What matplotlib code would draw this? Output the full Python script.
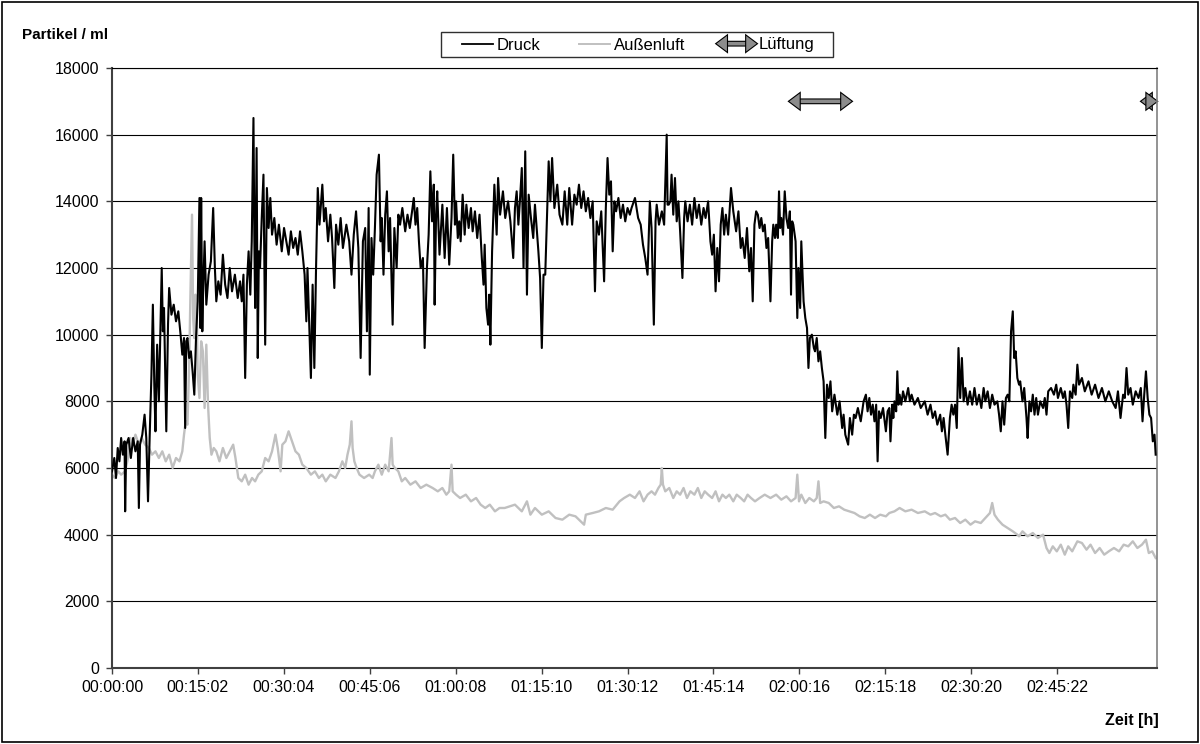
import matplotlib
matplotlib.use("Agg")
import matplotlib.pyplot as plt
import matplotlib.patheffects as pe
from matplotlib.patches import FancyArrowPatch, Rectangle
from matplotlib.lines import Line2D
from matplotlib.legend_handler import HandlerPatch

plt.rcParams['font.family'] = ['Liberation Sans', 'DejaVu Sans']

# Druck: time in minutes, particles per ml
druck_min = [
    0.0, 0.4, 0.7, 1.0, 1.3, 1.6, 1.9, 2.2, 2.3, 2.5, 2.9, 3.3, 3.7, 4.1, 4.5, 4.7, 4.9, 5.3, 5.7, 6.0,
    6.3, 6.6, 6.9, 7.15, 7.4, 7.6, 7.9, 8.2, 8.7, 8.9, 9.1, 9.3, 9.5, 9.8, 10.0, 10.4, 10.8, 11.2, 11.6, 12.0,
    12.3, 12.6, 12.8, 13.0, 13.2, 13.5, 13.8, 14.1, 14.4, 14.7, 15.0, 15.3, 15.45, 15.6, 15.8, 15.9, 16.2, 16.5, 16.9, 17.3,
    17.7, 18.0, 18.25, 18.6, 19.0, 19.4, 19.8, 20.2, 20.6, 21.0, 21.5, 22.0, 22.4,
    22.7, 23.0, 23.3, 23.6, 23.9, 24.2, 24.45, 24.75, 24.9, 25.04, 25.3, 25.5, 25.7, 25.9, 26.2, 26.5, 26.8, 27.1, 27.4, 27.7,
    28.0, 28.4, 28.8, 29.2, 29.7, 30.1, 30.5, 30.9, 31.3, 31.7, 32.1, 32.5, 32.9, 33.3, 33.7, 34.0, 34.2, 34.5, 34.8, 35.1,
    35.4, 35.7, 36.0, 36.3, 36.8, 37.1, 37.4, 37.8, 38.2, 38.5, 38.9, 39.2, 39.6, 40.0, 40.4, 41.0, 41.5, 41.9, 42.3, 42.7,
    43.1, 43.5, 43.9, 44.3, 44.6, 44.9, 45.1,
    45.4, 45.7, 46.0, 46.3, 46.7, 47.0, 47.2, 47.5, 47.8, 48.1, 48.4, 48.65, 49.1, 49.4, 49.8, 50.1, 50.4, 50.8, 51.3, 51.7,
    52.1, 52.5, 52.8, 53.1, 53.4, 53.7, 54.0, 54.4, 54.7, 55.1, 55.4, 55.7, 56.0, 56.3, 56.45, 56.7, 56.9, 57.3, 57.8, 58.2,
    58.6, 59.0, 59.4, 59.7, 60.0, 60.2, 60.5, 60.75, 61.0, 61.35, 61.7, 62.0, 62.4, 62.8, 63.1, 63.5, 63.9, 64.3, 64.7, 65.0,
    65.2, 65.5, 65.8, 66.0, 66.2, 66.5, 66.9, 67.3,
    67.55, 67.9, 68.4, 68.8, 69.3, 69.7, 70.2, 70.5, 70.8, 71.1, 71.4, 71.7, 72.0, 72.3, 72.6, 72.9, 73.3, 73.7, 74.0, 74.3,
    74.6, 74.9, 75.2, 75.5, 75.8, 76.1, 76.4, 76.7, 77.0, 77.4, 77.9, 78.3, 78.8, 79.2, 79.65, 80.0, 80.5, 80.9, 81.3, 81.7,
    82.1, 82.5, 82.9, 83.3, 83.7, 84.1, 84.5, 84.8, 85.2, 85.6, 86.1, 86.4, 86.7, 87.0, 87.3, 87.6, 87.9, 88.2, 88.6, 89.0,
    89.4, 89.8, 90.2, 90.6,
    90.9, 91.5, 92.05, 92.5, 92.9, 93.3, 93.7, 94.1, 94.4, 94.8, 95.1, 95.3, 95.7, 96.2, 96.6, 97.05, 97.2, 97.4, 97.7, 97.9,
    98.2, 98.5, 98.8, 99.1, 99.4, 99.8, 100.1, 100.3, 100.7, 101.1, 101.5, 101.9, 102.3, 102.7, 103.1, 103.5, 103.85, 104.3, 104.7, 105.0,
    105.3, 105.6, 105.9, 106.2, 106.5, 106.8, 107.1, 107.4, 107.8, 108.3, 108.7, 109.2, 109.6, 110.0, 110.3, 110.7, 111.1, 111.5, 111.8, 112.1,
    112.4, 112.7,
    113.0, 113.3, 113.6, 113.9, 114.2, 114.5, 114.8, 115.2, 115.5, 115.7, 116.0, 116.2, 116.5, 116.7, 116.9, 117.1, 117.4, 117.7, 118.0, 118.3,
    118.6, 118.8, 119.0, 119.2, 119.6, 119.9, 120.1, 120.4, 120.6, 121.0, 121.3, 121.6, 121.85, 122.1, 122.45, 122.8, 123.0, 123.3, 123.6, 123.9,
    124.2, 124.5, 124.8, 125.1, 125.4, 125.7, 126.0, 126.4, 126.9, 127.3, 127.75, 128.0, 128.3, 128.8, 129.1, 129.5, 129.8, 130.1, 130.5, 131.0,
    131.5, 131.9, 132.2, 132.5, 132.8, 133.1, 133.4, 133.7, 133.95, 134.2, 134.5, 134.9, 135.4, 135.7, 136.0,
    136.2, 136.5, 136.7, 136.9, 137.2, 137.4, 137.6, 137.8, 138.1, 138.4, 138.8, 139.3, 139.6, 139.9, 140.4, 141.0, 141.5, 142.2, 142.7, 143.2,
    143.6, 144.0, 144.4, 144.9, 145.2, 145.5, 145.8, 146.2, 146.6, 146.9, 147.2, 147.5, 147.8, 148.1, 148.4, 148.7, 149.0, 149.3, 149.7, 150.1,
    150.5, 150.9, 151.3, 151.7, 152.1, 152.5, 152.8, 153.2, 153.6, 154.0, 154.4, 154.9, 155.2, 155.5, 155.8, 156.1, 156.4, 156.7, 157.0, 157.3,
    157.6, 157.85, 158.1, 158.4, 158.7,
    158.9, 159.3, 159.6, 160.0, 160.2, 160.5, 160.8, 161.1, 161.4, 161.7, 162.0, 162.4, 162.9, 163.2, 163.5, 163.8, 164.3, 164.8, 165.2, 165.5,
    166.0, 166.4, 166.7, 167.0, 167.3, 167.6, 168.0, 168.2, 168.6, 168.9, 169.2, 169.7, 170.2, 170.85, 171.4, 172.0, 172.6, 173.2, 173.8, 174.4,
    175.0, 175.6, 176.0, 176.45, 176.9, 177.2, 177.5, 177.8, 178.2, 178.6, 179.1, 179.6, 180.0, 180.3, 180.6, 180.9, 181.2, 181.5, 181.8, 182.1,
    182.4, 182.6,
]
druck_val = [
    5900, 6300, 5700, 6600, 6200, 6900, 6400, 6800, 4700, 6700, 6900, 6300, 6900, 6500, 6800, 4800, 6700, 7000, 7600, 6900,
    5000, 7000, 8800, 10900, 8500, 7100, 9700, 8000, 12000, 10100, 10800, 9000, 7100, 10300, 11400, 10600, 10900, 10400, 10700, 10000,
    9400, 9900, 7200, 9800, 9900, 9300, 9500, 8900, 8200, 9900, 11000, 14100, 10200, 14100, 10100, 11000, 12800, 10900, 11800, 12200,
    13800, 12000, 11000, 11600, 11200, 12400, 11500, 11100, 12000, 11300, 11800, 11100, 11600,
    11000, 11800, 8700, 11500, 12500, 11200, 12800, 16500, 13000, 10800, 15600, 9300, 12500, 12000, 13500, 14800, 9700, 14400, 13200, 14100,
    13000, 13500, 12700, 13300, 12500, 13200, 12800, 12400, 13100, 12600, 12900, 12400, 13100, 12500, 11800, 10400, 12000, 10300, 8700, 11500,
    9000, 12000, 14400, 13300, 14500, 13400, 13800, 12800, 13600, 12900, 11400, 13300, 12700, 13500, 12600, 13300, 12800, 11800, 13000, 13700,
    12600, 9300, 12800, 13200, 10100, 13800, 8800,
    12900, 11800, 13200, 14800, 15400, 12800, 13500, 11800, 13600, 14300, 12500, 13500, 10300, 13200, 12000, 13600, 13300, 13800, 13100, 13600,
    13200, 13700, 14100, 13300, 13800, 12800, 12000, 12300, 9600, 12000, 13000, 14900, 13400, 14500, 10900, 13600, 14300, 12400, 13900, 12300,
    13800, 12100, 13500, 15400, 13300, 14000, 12900, 13400, 12800, 14200, 13000, 13900, 13200, 13800, 13100, 13700, 12900, 13600, 12300, 11500,
    12700, 10800, 10300, 11200, 9700, 12500, 14500, 13000,
    14700, 13600, 14300, 13500, 14000, 13400, 12300, 13800, 14300, 13300, 14100, 15000, 12000, 15500, 11200, 14200, 13500, 12900, 13900, 13200,
    12500, 11700, 9600, 11800, 11800, 13500, 15200, 14000, 15300, 13800, 14500, 13600, 13300, 14300, 13300, 14400, 13300, 14200, 13900, 14500,
    13800, 14300, 13700, 14100, 13500, 14000, 11300, 13400, 13000, 13700, 11600, 13800, 15300, 14200, 14600, 12500, 14000, 13700, 14100, 13500,
    13900, 13400, 13800, 13600,
    13800, 14100, 13500, 13300, 12700, 12300, 11800, 14000, 13200, 10300, 13400, 13900, 13300, 13700, 13300, 16000, 13900, 13900, 14000, 14800,
    13600, 14700, 13400, 14000, 13100, 11700, 13500, 14000, 13400, 13900, 13300, 14100, 13500, 13900, 13300, 13800, 13500, 14000, 12800, 12400,
    13000, 11300, 12600, 11600, 13300, 13800, 13000, 13600, 13000, 14400, 13700, 13100, 13700, 12600, 12900, 12300, 13200, 11900, 12600, 11000,
    13300, 13700,
    13600, 13200, 13500, 13100, 13300, 12600, 12900, 11000, 12800, 13300, 12900, 13300, 12900, 14300, 13200, 13500, 13000, 14300, 13500, 13200,
    13700, 11200, 13400, 13300, 12800, 10500, 12000, 10800, 12800, 11000, 10500, 10200, 9000, 9900, 10000, 9600, 9500, 9900, 9200, 9500,
    9000, 8600, 6900, 8500, 8100, 8600, 7700, 8200, 7600, 8000, 7200, 7600, 7000, 6700, 7500, 7000, 7600, 7500, 7800, 7400,
    8000, 8200, 7700, 8100, 7600, 7900, 7400, 7900, 6200, 7700, 7500, 7800, 7100, 7700, 7800,
    6800, 7900, 7500, 8000, 7700, 8900, 7900, 8200, 7900, 8300, 8000, 8400, 8000, 8200, 7900, 8100, 7800, 8000, 7600, 7900,
    7500, 7700, 7300, 7600, 7100, 7500, 7000, 6400, 7500, 7900, 7600, 7900, 7200, 9600, 8100, 9300, 8000, 8400, 7900, 8300,
    7900, 8400, 7900, 8200, 7800, 8400, 8000, 8300, 7800, 8200, 7900, 8000, 7600, 7100, 8000, 7300, 8100, 8200, 8000, 10100,
    10700, 9300, 9500, 8700, 8500,
    8600, 8000, 8400, 7500, 6900, 8000, 7700, 8200, 7600, 8100, 7600, 8000, 7800, 8100, 7600, 8300, 8400, 8200, 8500, 8100,
    8400, 8100, 8300, 7900, 7200, 8300, 8100, 8500, 8200, 9100, 8500, 8700, 8300, 8600, 8200, 8500, 8100, 8400, 8000, 8300,
    8000, 7800, 8300, 7500, 8200, 8100, 9000, 8200, 8400, 7900, 8300, 8100, 8400, 7400, 8200, 8900, 8100, 7600, 7500, 6800,
    7000, 6400,
]

# Aussenluft
aussen_min = [
    0.0, 0.5, 1.1, 1.6, 2.3, 2.8, 3.2, 3.6, 4.1, 4.7, 5.2, 5.8, 6.45, 7.0, 7.6, 8.2, 8.8, 9.4, 10.0, 10.6,
    11.2, 11.8, 12.3, 12.6, 12.9, 13.2, 13.5, 13.7, 14.0, 14.2, 14.4, 14.6, 14.8, 15.0, 15.3, 15.6, 15.9, 16.2, 16.5, 16.8,
    17.1, 17.4, 17.8, 18.25, 18.8, 19.4, 20.0, 20.6, 21.2, 21.6, 22.1,
    22.7, 23.3, 23.9, 24.5, 25.04, 25.6, 26.2, 26.8, 27.4, 28.0, 28.6, 29.0, 29.5, 29.8, 30.35, 30.9, 31.5, 32.1, 32.7, 33.3,
    34.0, 34.8, 35.5, 36.2, 36.8, 37.4, 38.2, 39.1, 39.7, 40.3, 40.8, 41.2, 41.6, 41.9, 42.1, 42.4, 42.8, 43.3, 44.1, 45.0,
    45.6, 46.0, 46.6, 47.2, 47.8, 48.4, 48.9, 49.1, 49.5, 50.1, 50.7, 51.3, 52.2, 53.1, 54.0, 55.0, 56.1, 57.0, 57.8, 58.5,
    59.0, 59.4, 59.6, 60.2, 60.9, 61.9, 62.8, 63.7, 64.5, 65.3, 66.1, 67.0, 67.8,
    68.7, 70.5, 71.7, 72.6, 73.2, 74.0, 75.2, 76.4, 77.6, 78.8, 80.0, 81.1, 82.6, 82.9, 84.1, 85.2, 86.4, 87.6, 88.8, 89.6,
    90.6,
    91.5, 92.3, 93.0, 93.7, 94.4, 95.0, 95.6, 96.0, 96.2, 96.4, 96.8, 97.5, 98.2, 98.8, 99.4, 100.0, 100.6, 101.2, 101.9, 102.5,
    103.1, 103.7, 104.3, 105.0, 105.6, 106.2, 106.8, 107.4, 108.0, 108.7, 109.3, 110.0, 110.6, 111.2, 111.8, 112.5, 113.3,
    114.2, 115.2, 116.2, 117.1, 118.0, 118.8, 119.6, 119.9, 120.2, 120.6, 121.3, 122.0, 122.8, 123.3, 123.6, 123.9, 124.5, 125.4, 126.3, 127.2,
    128.1, 129.0, 129.9, 130.8, 131.7, 132.6, 133.5, 134.4, 135.4, 136.0,
    136.9, 137.8, 138.8, 139.9, 141.0, 142.2, 143.2, 144.0, 145.0, 145.8, 146.6, 147.5, 148.4, 149.3, 150.2, 151.0, 152.0, 152.8, 153.6, 154.0,
    154.4, 155.0, 155.8, 156.7, 157.6, 158.4, 158.7,
    159.3, 160.2, 161.1, 162.0, 162.9, 163.5, 164.0, 164.6, 165.3, 166.0, 166.7, 167.3, 168.0, 168.9, 169.7, 170.5, 171.2, 172.0, 172.8, 173.6,
    174.4, 175.3, 176.2, 177.0, 177.8, 178.6, 179.4, 180.2, 180.9, 181.4, 182.0, 182.6,
]
aussen_val = [
    5800, 5700, 5900, 5800, 5900, 6300, 6900, 6700, 7000, 6700, 6900, 6700, 6600, 6400, 6500, 6300, 6500, 6200, 6400, 6000,
    6300, 6200, 6500, 7000, 7400, 7300, 9100, 11000, 13600, 10500, 9900, 11200, 10900, 8800, 8100, 9800, 9500, 7800, 9700, 7900,
    6900, 6400, 6600, 6500, 6200, 6600, 6300, 6500, 6700, 6300, 5700,
    5600, 5800, 5500, 5700, 5600, 5800, 5900, 6300, 6200, 6500, 7000, 6600, 5900, 6700, 6800, 7100, 6800, 6500, 6400, 6100,
    6000, 5800, 5900, 5700, 5800, 5600, 5800, 5700, 5900, 6200, 6000, 6400, 6700, 7400, 6600, 6200, 6000, 5800, 5700, 5800,
    5700, 5900, 6100, 5800, 6100, 5900, 6900, 6100, 6000, 5900, 5600, 5700, 5500, 5600, 5400, 5500, 5400, 5300, 5400, 5200,
    5300, 6100, 5300, 5200, 5100, 5200, 5000, 5100, 4900, 4800, 4900, 4700, 4800,
    4800, 4900, 4700, 5000, 4600, 4800, 4600, 4700, 4500, 4450, 4600, 4550, 4300, 4600, 4650, 4700, 4800, 4750, 5000, 5100,
    5200,
    5100, 5300, 5000, 5200, 5300, 5200, 5400, 5500, 6000, 5500, 5300, 5400, 5100, 5300, 5200, 5400, 5100, 5300, 5200, 5400,
    5100, 5300, 5200, 5100, 5300, 5000, 5200, 5100, 5200, 5000, 5200, 5100, 5000, 5200, 5100, 5000, 5100,
    5200, 5100, 5200, 5050, 5150, 5000, 5100, 5800, 5000, 5200, 4950, 5100, 5000, 5100, 5600, 4950, 5000, 4950, 4800, 4850,
    4750, 4700, 4650, 4550, 4500, 4600, 4500, 4600, 4550, 4650,
    4700, 4800, 4700, 4750, 4650, 4700, 4600, 4650, 4550, 4600, 4450, 4500, 4350, 4450, 4300, 4400, 4350, 4500, 4650, 4950,
    4600, 4450, 4300, 4200, 4100, 4000, 3950,
    4100, 3950, 4050, 3900, 4000, 3600, 3450, 3650, 3500, 3700, 3400, 3650, 3500, 3800, 3750, 3550, 3700, 3450, 3600, 3400,
    3500, 3600, 3500, 3700, 3650, 3800, 3600, 3700, 3850, 3450, 3500, 3300,
]

# Lueftung (ventilation) periods, minutes, drawn at 17000
lueftung_start = [118.5, 180.1]
lueftung_end = [129.4, 182.8]
lueftung_level = 17000

tick_labels = ["00:00:00", "00:15:02", "00:30:04", "00:45:06", "01:00:08", "01:15:10",
               "01:30:12", "01:45:14", "02:00:16", "02:15:18", "02:30:20", "02:45:22"]


def hms_to_s(s):
    h, m, sec = s.split(":")
    return int(h) * 3600 + int(m) * 60 + int(sec)


def make_arrow(p0, p1):
    return FancyArrowPatch(p0, p1, arrowstyle="<|-|>,head_length=0.2,head_width=0.15",
                           mutation_scale=20, lw=2.6, color="#8c8c8c",
                           shrinkA=0, shrinkB=0, capstyle="butt", joinstyle="miter",
                           path_effects=[pe.Stroke(linewidth=4.2, foreground="black"), pe.Normal()])


class HandlerDArrow(HandlerPatch):
    def create_artists(self, legend, orig_handle, xdescent, ydescent, width, height, fontsize, trans):
        y = 0.5 * height - ydescent
        p = make_arrow((-xdescent - 5, y), (-xdescent + width + 1, y))
        p.set_transform(trans)
        return [p]


fig = plt.figure(figsize=(12, 7.44), dpi=100)
ax = fig.add_axes([112 / 1200, 1 - 668 / 744, 1045 / 1200, 600 / 744])

ax.plot([m * 60 for m in aussen_min], aussen_val, color="#c0c0c0", lw=1.7, zorder=2)
ax.plot([m * 60 for m in druck_min], druck_val, color="black", lw=1.5, zorder=3)

for a, b in zip(lueftung_start, lueftung_end):
    arr = make_arrow((a * 60, lueftung_level), (b * 60, lueftung_level))
    arr.set_clip_on(False)
    ax.add_patch(arr)

ax.set_xlim(0, 10970)
ax.set_ylim(0, 18000)
ax.set_yticks(range(0, 18001, 2000))
ax.set_xticks([hms_to_s(t) for t in tick_labels])
ax.set_xticklabels(tick_labels)
ax.yaxis.grid(True, color="black", lw=0.8)
ax.set_axisbelow(True)
ax.tick_params(direction="out", length=4, width=1, color="#404040", labelsize=11.5, pad=5)

for side in ("left", "bottom"):
    ax.spines[side].set_color("#404040")
    ax.spines[side].set_linewidth(1.5)
ax.spines["right"].set_color("#808080")
ax.spines["right"].set_linewidth(1.2)
ax.spines["top"].set_color("black")
ax.spines["top"].set_linewidth(0.8)

fig.text(22 / 1200, 1 - 35 / 744, "Partikel / ml", weight="bold", fontsize=11, va="center")
fig.text(1159 / 1200, 1 - 721 / 744, "Zeit [h]", weight="bold", fontsize=11.5, va="center", ha="right")

handles = [Line2D([], [], color="black", lw=1.3),
           Line2D([], [], color="#c0c0c0", lw=1.4),
           make_arrow((0, 0), (1, 0))]
fig.legend(handles, ["Druck", "Außenluft", "Lüftung"],
           handler_map={FancyArrowPatch: HandlerDArrow()},
           loc="center", bbox_to_anchor=(638 / 1200, 1 - 45 / 744), ncol=3,
           frameon=False, fontsize=12,
           handlelength=1.9, handletextpad=0.2, columnspacing=2.3, borderpad=0.2)

# legend frame (wider than matplotlib's padding would give)
fig.add_artist(Rectangle((441 / 1200, 1 - 57 / 744), 392 / 1200, 25 / 744, transform=fig.transFigure,
                         fill=False, ec="#303030", lw=1.0))
# outer chart border
fig.add_artist(Rectangle((0.002, 0.003), 0.996, 0.994, transform=fig.transFigure,
                         fill=False, ec="black", lw=1.2))

fig.savefig("out.png", dpi=100)
